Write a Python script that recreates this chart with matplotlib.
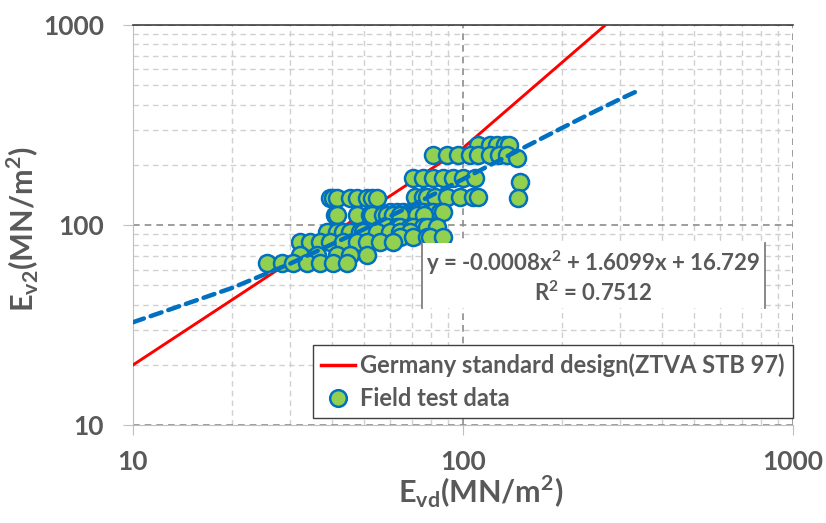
import matplotlib.pyplot as plt
import numpy as np
from matplotlib.lines import Line2D
from matplotlib.patches import Rectangle
from matplotlib.ticker import FixedLocator, NullFormatter

plt.rcParams['font.family'] = ['Lato', 'DejaVu Sans']

# field test data (Evd, Ev2)
evd = [111, 121, 127, 134, 138,
       81, 89.5, 96.6, 105, 111, 121, 129, 136, 146,
       70.5, 75.7, 81.1, 86.9, 93.3, 100, 109, 149,
       71.6, 75.7, 77.8, 82.2, 89.5, 97.9, 107, 111, 147,
       39.5, 40.4, 41.5, 45.5, 47.7, 51.2, 53.0, 54.9,
       60.1, 63.1, 65.8, 69.0, 72.6, 75.7, 79.4, 81.1, 85.1, 86.9,
       40.9, 41.5, 47.7, 52.2, 53.0, 57.2, 58.8, 61.4, 64.4, 72.6, 76.4,
       58.8, 63.1, 64.4, 69.0, 70.5, 75.7, 77.8, 83.4,
       38.7, 41.5, 43.3, 45.5, 48.7, 49.8, 54.9, 60.1, 64.4, 69.0,
       64.4, 70.5, 77.8, 79.4, 86.9,
       32.1, 34.4, 36.9, 39.5, 43.3, 47.7, 51.2, 56.0, 61.4,
       32.1, 36.1, 41.5, 45.5, 51.2,
       25.5, 28.3, 30.5, 33.7, 36.9, 40.4, 44.5]
ev2 = [251, 251, 251, 251, 251,
       224, 224, 224, 224, 224, 224, 224, 224, 216,
       172, 172, 172, 172, 172, 172, 172, 164,
       138, 138, 138, 138, 138, 138, 138, 138, 136,
       136, 136, 136, 136, 136, 136, 136, 136,
       116, 116, 116, 116, 116, 116, 116, 116, 116, 116,
       112, 112, 112, 112, 112, 112, 112, 112, 112, 112, 112,
       98, 98, 98, 98, 98, 98, 98, 98,
       92, 92, 92, 92, 92, 92, 92, 92, 92, 92,
       87, 87, 87, 87, 87,
       82, 82, 82, 82, 82, 82, 82, 82, 82,
       71, 71, 71, 71, 71,
       65, 65, 65, 65, 65, 65, 65]

# ZTVA StB 97 design line
std_evd = [10, 40, 100, 270]
std_ev2 = [20, 90, 243, 1000]

# polynomial trend line
trend_evd = [10, 20, 30, 50, 75, 100, 150, 200, 250, 300, 345]
trend_ev2 = [32.7, 48.6, 64.3, 95.2, 132.9, 169.7, 240.2, 306.7, 369.2, 427.7, 476]

legend_labels = ['Germany standard design(ZTVA STB 97)', 'Field test data']

GRAY = '#595959'

fig = plt.figure(figsize=(8.26, 5.23), dpi=100)
ax = fig.add_axes([0.161, 0.187, 0.799, 0.765])

ax.plot(std_evd, std_ev2, color='#FF0000', lw=2.1, zorder=3)
ax.scatter(evd, ev2, s=150, facecolor='#92D050', edgecolor='#0070C0',
           linewidths=1.8, zorder=4)
ax.plot(trend_evd, trend_ev2, color='#0070C0', lw=3.2, dashes=(2.6, 1.6),
        dash_capstyle='round', zorder=5)

ax.set_xscale('log')
ax.set_yscale('log')
ax.set_xlim(10, 1000)
ax.set_ylim(10, 1000)

ax.xaxis.set_major_locator(FixedLocator([10, 100, 1000]))
ax.yaxis.set_major_locator(FixedLocator([10, 100, 1000]))
ax.set_xticklabels(['10', '100', '1000'])
ax.set_yticklabels(['10', '100', '1000'])
minors = [m * d for d in (10, 100) for m in range(2, 10)]
ax.xaxis.set_minor_locator(FixedLocator(minors))
ax.yaxis.set_minor_locator(FixedLocator(minors))
ax.xaxis.set_minor_formatter(NullFormatter())
ax.yaxis.set_minor_formatter(NullFormatter())

ax.grid(which='major', color='#8C8C8C', lw=1.2, ls=(0, (4, 3)), zorder=0)
ax.grid(which='minor', color='#D0D0D0', lw=1.0, ls=(0, (4, 3)), zorder=0)

ax.tick_params(which='major', length=7, color='#BFBFBF', labelsize=19,
               labelcolor=GRAY, pad=11)
ax.tick_params(axis='y', which='major', pad=14)
ax.tick_params(which='minor', length=0)
for lab in ax.get_xticklabels() + ax.get_yticklabels():
    lab.set_fontweight('bold')

for s in ('left', 'bottom'):
    ax.spines[s].set_color('#BFBFBF')
ax.spines['right'].set_visible(False)
ax.spines['top'].set_color('#404040')
ax.spines['top'].set_linewidth(1.2)

ax.set_xlabel(r'E$_{\mathregular{vd}}$(MN/m$^{\mathregular{2}}$)', fontsize=22,
              color=GRAY, fontweight='bold')
ax.set_ylabel(r'E$_{\mathregular{v2}}$(MN/m$^{\mathregular{2}}$)', fontsize=22,
              color=GRAY, fontweight='bold')
ax.xaxis.set_label_coords(0.527, -0.12)
ax.yaxis.set_label_coords(-0.14, 0.49)

# equation box (only side borders show)
ax.add_patch(Rectangle((0.438, 0.2925), 0.52, 0.1625, transform=ax.transAxes,
                       facecolor='white', edgecolor='none', zorder=6))
for xb in (0.438, 0.958):
    ax.plot([xb, xb], [0.2925, 0.455], transform=ax.transAxes, color='#7F7F7F',
            lw=1.3, zorder=7)
ax.text(0.697, 0.405, 'y = -0.0008x$^{\\mathregular{2}}$ + 1.6099x + 16.729',
        transform=ax.transAxes, ha='center', va='center', fontsize=16,
        fontweight='bold', color=GRAY, zorder=8)
ax.text(0.697, 0.33, 'R$^{\\mathregular{2}}$ = 0.7512', transform=ax.transAxes,
        ha='center', va='center', fontsize=16, fontweight='bold', color=GRAY,
        zorder=8)

handles = [Line2D([], [], color='#FF0000', lw=2.5),
           Line2D([], [], ls='none', marker='o', markersize=12,
                  markerfacecolor='#92D050', markeredgecolor='#0070C0',
                  markeredgewidth=1.8)]
leg = ax.legend(handles, legend_labels, loc='lower right',
                bbox_to_anchor=(1.0, 0.0175), borderaxespad=0,
                fancybox=False, framealpha=1, edgecolor='#404040',
                handlelength=1.45, handletextpad=0.2, borderpad=0.35,
                labelspacing=0.42, prop={'size': 17, 'weight': 'bold'})
leg.set_zorder(9)
for t in leg.get_texts():
    t.set_color(GRAY)

fig.savefig('out.png', dpi=100)
